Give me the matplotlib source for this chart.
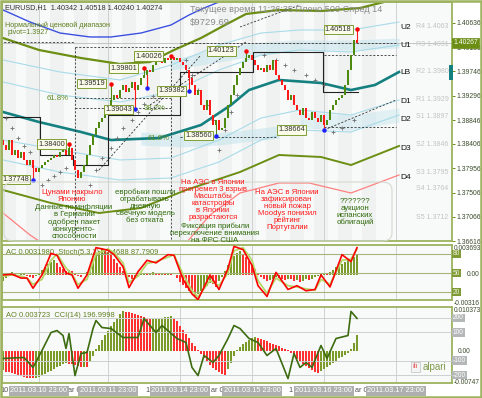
import matplotlib
matplotlib.use("Agg")
import matplotlib.pyplot as plt
from matplotlib.patches import Rectangle, FancyBboxPatch
import numpy as np

plt.rcParams['font.family'] = ['Liberation Sans', 'DejaVu Sans']

# ---------------- data ----------------
header = "EURUSD,H1  1.40342 1.40518 1.40240 1.40274"
info_line = "Текущее время 11:26:35 Плечо 500 Спред 14"
balance = "$9729.69"
range_title = "Нормальный ценовой диапазон"
pivot_text = "pivot=1.3927"

first_open = 1.38478
closes = [
    1.38386, 1.38294, 1.38478, 1.38202, 1.38294, 1.38146, 1.38257, 1.38110, 1.38017, 1.38110, 1.37962,
    1.37888, 1.37962, 1.38017, 1.38073, 1.38110, 1.38146, 1.38202, 1.38165, 1.38257, 1.38294, 1.38202,
    1.38331, 1.38110, 1.37925, 1.37778, 1.37888,
    1.38017, 1.38202, 1.38386, 1.38571, 1.38700, 1.38810, 1.38884, 1.38995, 1.39069, 1.39216,
    1.39308, 1.39253, 1.39400, 1.39493, 1.39364, 1.39437, 1.39548, 1.39400, 1.39493, 1.39622,
    1.39677, 1.39769, 1.39732, 1.39861, 1.39917, 1.39954, 1.39898, 1.39990, 1.39954, 1.40009,
    1.39954, 1.39990, 1.39917, 1.39861, 1.39769, 1.39622,
    1.39493, 1.39308, 1.39400, 1.39124, 1.39032, 1.39216, 1.38939, 1.38755, 1.38847, 1.38663,
    1.38700, 1.38884, 1.39124, 1.39308, 1.39493, 1.39677, 1.39806, 1.39917, 1.39990, 1.40046,
    1.39954, 1.39861, 1.39769, 1.39806, 1.39732, 1.39861, 1.39769, 1.39954, 1.39677, 1.39585,
    1.39493, 1.39400, 1.39216, 1.39308, 1.39124, 1.39032, 1.38939, 1.39069, 1.38884, 1.38847,
    1.38995, 1.38884, 1.38810, 1.38939, 1.38755, 1.38847,
    1.39032, 1.39124, 1.39216, 1.39253, 1.39308,
    1.39493, 1.39769, 1.40046, 1.40322, 1.40267,
]

# swing highs / lows with their price labels
swing_idx = [10, 22, 36, 44, 47, 62, 56, 71, 81, 107, 118]
swing_price = [1.37748, 1.38400, 1.39519, 1.39043, 1.39801, 1.39382, 1.40026, 1.38560, 1.40123, 1.38664, 1.40518]
swing_high = [False, True, True, False, True, False, True, False, True, False, True]
label_idx = [-0.3, 11.7, 25.0, 34.0, 35.7, 51.7, 44.0, 60.7, 68.3, 91.7, 107.3]
extra_low_idx = [48]
extra_low_price = [1.3943]

# channel / band curves (bar index, price)
blue_idx = [0, 9, 19, 29, 36, 46, 56, 62, 67, 72, 76]
blue_val = [1.40876, 1.40654, 1.40451, 1.40378, 1.40378, 1.40451, 1.40599, 1.40783, 1.40912, 1.41023, 1.41152]
olive_up_idx = [0, 12, 26, 39, 49, 57, 66, 74, 81, 92, 106, 119, 127]
olive_up_val = [1.40359, 1.40138, 1.39990, 1.39880, 1.39917, 1.40138, 1.40359, 1.40599, 1.40802, 1.40876, 1.40857, 1.40912, 1.41023]
olive_dn_idx = [0, 16, 32, 46, 61, 79, 92, 106, 116, 132]
olive_dn_val = [1.37556, 1.37317, 1.37132, 1.37225, 1.37556, 1.37888, 1.38202, 1.38165, 1.38017, 1.38368]
pink_idx = [0, 9, 19, 39, 59, 69, 79, 92, 102, 116, 132]
pink_val = [1.37132, 1.36727, 1.36358, 1.35989, 1.36450, 1.37095, 1.37501, 1.37686, 1.37686, 1.37501, 1.37833]
teal_idx = [0, 12, 26, 36, 52, 66, 76, 82, 92, 106, 116, 124, 132]
teal_val = [1.38995, 1.38810, 1.38626, 1.38478, 1.38515, 1.38755, 1.39124, 1.39400, 1.39585, 1.39530, 1.39400, 1.39493, 1.39732]
lb_idx = [0, 19, 39, 56, 72, 86, 99, 116, 132]
lb_u2 = [1.39954, 1.39732, 1.39585, 1.39861, 1.40230, 1.40451, 1.40507, 1.40507, 1.40654]
lb_u1 = [1.39548, 1.39308, 1.39179, 1.39364, 1.39769, 1.40046, 1.40138, 1.40101, 1.40230]
lb_d1 = [1.38478, 1.38294, 1.38110, 1.38146, 1.38478, 1.38884, 1.39032, 1.38939, 1.39216]
lb_d2 = [1.38110, 1.37888, 1.37741, 1.37778, 1.38073, 1.38478, 1.38663, 1.38626, 1.38939]

band1_idx = [56, 72, 86, 99, 116, 132]
band1_hi = [1.39954, 1.40175, 1.40286, 1.40322, 1.40322, 1.40359]
band1_lo = [1.39769, 1.39917, 1.40046, 1.40138, 1.40138, 1.40175]
band2_idx = [46, 60, 72, 86, 92]
band2_hi = [1.38626, 1.38571, 1.38608, 1.38700, 1.38737]
band2_lo = [1.38386, 1.38349, 1.38386, 1.38478, 1.38515]
band3_idx = [99, 116, 132]
band3_hi = [1.38995, 1.38939, 1.39069]
band3_lo = [1.38700, 1.38663, 1.38810]

# dashed fib / pivot lines: (start idx, end idx, start price, end price)
dashed_lines = [
    (-1, 24, 1.40286, 1.40286), (24, 59, 1.40193, 1.40193),
    (24, 24, 1.40193, 1.3600), (56, 56, 1.40009, 1.3600),
    (24, 56, 1.39253, 1.39253), (24, 56, 1.39069, 1.39069),
    (59, 131, 1.40267, 1.40267), (59, 91, 1.38534, 1.38534),
    (107, 131, 1.40046, 1.40046), (107, 131, 1.38718, 1.38718),
    (32, 66, 1.37925, 1.40046), (49, 81, 1.39124, 1.40286),
    (79, 99, 1.40562, 1.40968), (107, 131, 1.38663, 1.39216),
]
# previous-day range steps
step_idx = [-1, 12.3, 12.3, 23.3, 23.3, 35, 35, 59, 59, 83.3, 83.3, 106.7, 106.7, 118.3]
step_val = [1.38903, 1.38903, 1.38202, 1.38202, 1.38017, 1.38017, 1.38939, 1.38939,
            1.39732, 1.39732, 1.40101, 1.40101, 1.39364, 1.39364]

# parabolic SAR dots
sar_idx = [1, 3, 5, 7, 9, 13, 15, 17, 19, 21,
           29, 31, 33, 36, 38, 40, 43, 45, 47, 50, 52,
           61, 63, 65, 68, 70, 72, 74, 76, 78,
           87, 91, 94, 97, 101, 104, 107, 110, 113, 117]
sar_val = [1.3889, 1.3870, 1.3852, 1.3837, 1.3826, 1.3765, 1.3774, 1.3782, 1.3789, 1.3797,
           1.3765, 1.3793, 1.3815, 1.3833, 1.3852, 1.3870, 1.3885, 1.3900, 1.3915, 1.3929, 1.3944,
           1.3996, 1.3968, 1.3940, 1.3913, 1.3885, 1.3830, 1.3867, 1.3900, 1.3931,
           1.4005, 1.3996, 1.3986, 1.3977, 1.3968, 1.3959, 1.3950, 1.3863, 1.3870, 1.3885]

pct_labels = ["61.8%", "38.2%", "61.8%"]
pct_idx = [14.5, 47.0, 48.3]
pct_val = [1.3924, 1.3905, 1.3850]

right_names = ["U2", "U1", "LB", "D1", "D2", "D3", "D4"]
right_name_val = [1.4056, 1.4023, 1.3972, 1.3918, 1.3885, 1.3833, 1.3778]
pivot_names = ["R4 1.4063", "R3 1.4031", "R2 1.3980", "R1 1.3929", "S1 1.3897",
               "S2 1.3846", "S3 1.3795", "S4 1.3764", "S5 1.3712"]
pivot_vals = [1.4063, 1.4031, 1.3980, 1.3929, 1.3897, 1.3846, 1.3795, 1.3764, 1.3712]

price_ticks = [1.40636, 1.40186, 1.39746, 1.39296, 1.38846, 1.38406, 1.37956, 1.37506, 1.37066, 1.36616]

# Accelerator oscillator (per bar)
ac = [-0.0008, -0.0004,
      0.0002, 0.0003, 0.0002, -0.0001, 0.0001, 0.0002, -0.0002, -0.0003,
      -0.0004, -0.0002, 0.0002,
      0.0006, 0.0010, 0.0013, 0.0016, 0.0018,
      0.0014, 0.0010, 0.0007, 0.0005,
      0.0006, 0.0004, 0.0002,
      -0.0002, -0.0003, -0.0001, 0.0003,
      0.0010, 0.0018, 0.0024, 0.0030, 0.0033, 0.0031,
      0.0028, 0.0024, 0.0019, 0.0014, 0.0009, 0.0005,
      0.0001, -0.0003, -0.0005, -0.0004, -0.0002,
      0.0001, 0.0002, 0.0001, 0.0002, 0.0003, 0.0002, 0.0001, 0.0002, 0.0001, 0.0002, 0.0001, -0.0001,
      -0.0004, -0.0009, -0.0013, -0.0017, -0.0020, -0.0023, -0.0026, -0.0024, -0.0021,
      -0.0018, -0.0014, -0.0010, -0.0012, -0.0015, -0.0008, -0.0003,
      0.0005, 0.0012, 0.0018, 0.0023, 0.0027, 0.0029, 0.0026,
      0.0022, 0.0017, 0.0012, 0.0007, 0.0002,
      -0.0003, -0.0006, -0.0008, -0.0007, -0.0005, -0.0003,
      -0.0004, -0.0006, -0.0007, -0.0005, -0.0006, -0.0008, -0.0007, -0.0009, -0.0008, -0.0006,
      -0.0007, -0.0005, -0.0003, -0.0002,
      0.0001, 0.0002, 0.0001, 0.0003,
      0.0006, 0.0009, 0.0011, 0.0013, 0.0016, 0.0018, 0.0020, 0.0022, 0.0026]

stoch_idx = [0, 3, 6, 8, 10, 13, 16, 18, 21, 23, 25, 28, 31, 35, 37, 40, 42, 45, 48, 51,
             55, 57, 60, 63, 65, 69, 72, 75, 77, 80, 83, 85, 88, 91, 95, 98, 101, 104, 106, 109,
             113, 116, 118]
stoch_main = [47, 48, 42, 42, 26, 47, 81, 78, 50, 47, 26, 47, 90, 86, 79, 60, 27, 52, 70, 66,
              79, 78, 40, 17, 8, 47, 24, 57, 92, 87, 62, 30, 13, 51, 24, 30, 22, 24, 47, 28,
              79, 68, 90]
stoch_signal = [45, 47, 45, 42, 32, 40, 70, 80, 58, 48, 32, 40, 80, 88, 82, 66, 35, 45, 65, 68,
                75, 79, 48, 22, 12, 38, 30, 50, 85, 90, 70, 38, 18, 42, 30, 28, 25, 23, 40, 32,
                70, 72, 87.8]
ac_label = "AC 0.0031980  Stoch(5,3,3) 95.4688 87.7909"

# Awesome oscillator (per bar)
ao = [-0.0045, -0.0048, -0.0050, -0.0052, -0.0054, -0.0056, -0.0058, -0.0060, -0.0062, -0.0063, -0.0064,
      -0.0062, -0.0060, -0.0057, -0.0054, -0.0050, -0.0046, -0.0042, -0.0038, -0.0034, -0.0030, -0.0027,
      -0.0029, -0.0031, -0.0033, -0.0035, -0.0037, -0.0036, -0.0038,
      -0.0025, -0.0012,
      0.0004, 0.0015, 0.0026, 0.0037, 0.0048, 0.0058, 0.0068, 0.0078, 0.0087, 0.0095,
      0.0093, 0.0091, 0.0089, 0.0087, 0.0085, 0.0083, 0.0080, 0.0078, 0.0075,
      0.0076, 0.0077, 0.0078, 0.0079, 0.0080, 0.0081, 0.0082,
      0.0078, 0.0070, 0.0060, 0.0050, 0.0040, 0.0030, 0.0020, 0.0011, 0.0003,
      -0.0006, -0.0015, -0.0024, -0.0032, -0.0039, -0.0045, -0.0050, -0.0054, -0.0056,
      -0.0042, -0.0028, -0.0012,
      0.0003, 0.0010, 0.0016, 0.0022, 0.0027, 0.0031, 0.0034,
      0.0032, 0.0029, 0.0026, 0.0023, 0.0020, 0.0017, 0.0014, 0.0011, 0.0008, 0.0005, 0.0002,
      -0.0005, -0.0012, -0.0018, -0.0024, -0.0030, -0.0035, -0.0040, -0.0044, -0.0048, -0.0051,
      -0.0047, -0.0042, -0.0037, -0.0032, -0.0027, -0.0022, -0.0017, -0.0013, -0.0009, -0.0005,
      0.0005, 0.0020, 0.0037]
cci_idx = [0, 7, 10, 13, 16, 18, 20, 21, 22, 24, 26, 28, 30, 31, 33, 36, 40, 45, 47, 51,
           53, 58, 61, 63, 65, 67, 70, 72, 75, 77, 79, 82, 85, 88, 91, 95, 97, 99, 101, 103,
           106, 108, 111, 115, 116, 118]
cci = [-84, -77, -147, -28, 98, 112, 77, -14, 91, -204, -49, -42, 126, 182, 133, 126, 63, 63, 196, 98,
       147, 56, 28, -147, -204, -63, -112, -63, 56, 147, 126, 56, 28, -63, -14, -225, -49, -147, -112, -147,
       7, -84, 56, 77, 246, 197]
ao_label = "AO 0.003723  CCI(14) 196.9998"

grid_idx = [12, 35, 59, 83, 107, 131]
time_labels = ["2011.03.10 23:00", "2011.03.11 23:00", "2011.03.14 23:00",
               "2011.03.15 23:00", "2011.03.16 23:00", "2011.03.17 23:00"]
time_fragments = ["10", "ar 0", "1", "ar 0", "1", "ar 0"]
fragment_idx = [-0.9, 21.8, 47.6, 69.3, 95.0, 117.2]

notes = [
    ("Цунами накрыло\nЯпонию", 72, 196, 'red'),
    ("Данные по инфляции\nв Германии\nодобрен пакет\nконкуренто-\nспособности", 74, 222, 'green'),
    ("евробыки пошли\nотрабатывать\nдневную\nсвечную модель\nбез отката", 145, 206, 'green'),
    ("На АЭС в Японии\nпрогремел 3 взрыв\nМасштабы\nкатастрофы\nв Японии\nразрастаются", 213, 200, 'red'),
    ("Фиксация прибыли\nпереключение внимания\nна ФРС США", 215, 233, 'green'),
    ("На АЭС в Японии\nзафиксирован\nновый пожар\nMoodys понизил\nрейтинг\nПортугалии", 287, 210, 'red'),
    ("???????\nаукцион\nиспанских\nоблигаций", 355, 212, 'green'),
]

# ---------------- styling ----------------
W, H = 482, 398
BULL = '#4f8a10'
BEAR = '#ff1a1a'
OLIVE = '#9db35f'
TXT_OLIVE = '#5f7f1f'
BG = '#f8fafa'
XL = (-0.333, 149.667)


def fr(x0, y0, x1, y1):
    return [x0 / W, 1 - y1 / H, (x1 - x0) / W, (y1 - y0) / H]


def fp(x, y):
    return x / W, 1 - y / H


fig = plt.figure(figsize=(4.82, 3.98), dpi=100)
fig.patch.set_facecolor('white')

ax = fig.add_axes(fr(2, 2, 452, 241))
ax_ac = fig.add_axes(fr(2, 245, 452, 300))
ax_ao = fig.add_axes(fr(2, 307, 452, 383))

for a in (ax, ax_ac, ax_ao):
    a.set_facecolor(BG)
    a.set_xlim(*XL)
    for s in a.spines.values():
        s.set_color(OLIVE)
        s.set_linewidth(1.3)
    a.tick_params(axis='x', length=0, labelbottom=False)
    for g in grid_idx:
        a.axvline(g, color='#cfd2d2', lw=0.7, zorder=0.5)

# ---- main panel ----
ax.set_ylim(price_ticks[-1], 1.41023)
for s0 in np.arange(-0.3, 125, 8):
    ax.axvspan(s0, s0 + 4.5, color='#f0f2f2', lw=0, zorder=0.2)

ax.fill_between(band1_idx, band1_lo, band1_hi, color='#c4e4ec', alpha=0.55, lw=0, zorder=0.6)
ax.fill_between(band2_idx, band2_lo, band2_hi, color='#c4e4ec', alpha=0.55, lw=0, zorder=0.6)
ax.fill_between(band3_idx, band3_lo, band3_hi, color='#c4e4ec', alpha=0.45, lw=0, zorder=0.6)

for vals in (lb_u2, lb_u1, lb_d1, lb_d2):
    ax.plot(lb_idx, vals, color='#a9dbe8', lw=0.8, zorder=1)
ax.plot(blue_idx, blue_val, color='#3c50e0', lw=1.0, zorder=1.2)
ax.plot(olive_up_idx, olive_up_val, color='#6b8e13', lw=1.6, zorder=1.2)
ax.plot(olive_dn_idx, olive_dn_val, color='#6b8e13', lw=1.4, zorder=1.2)
ax.plot(pink_idx, pink_val, color='#ff8080', lw=0.9, zorder=1.2)
ax.plot(teal_idx, teal_val, color='#158080', lw=1.9, zorder=1.3)

for (i0, i1, p0, p1) in dashed_lines:
    ax.plot([i0, i1], [p0, p1], color='#333333', lw=0.6, ls=(0, (2.5, 2)), zorder=1.4)
ax.plot(step_idx, step_val, color='#222222', lw=0.8, zorder=1.4)
ax.axhline(closes[-1], color='#b0b0b0', lw=0.5, zorder=1.1)

ax.scatter(sar_idx, sar_val, marker='+', s=6, color='#707070', lw=0.6, zorder=1.5)

opens = [first_open] + closes[:-1]
idx = np.arange(len(closes))
bot = np.minimum(opens, closes)
hgt = np.maximum(np.abs(np.array(closes) - np.array(opens)), 0.00006)
cols = [BULL if c >= o else BEAR for o, c in zip(opens, closes)]
ax.bar(idx, hgt, bottom=bot, width=0.72, color=cols, lw=0, zorder=2)

for i, p, hi in zip(swing_idx, swing_price, swing_high):
    o, c = opens[i], closes[i]
    col = BULL if c >= o else BEAR
    ax.plot([i, i], [max(o, c) if hi else min(o, c), p], color=col, lw=0.8, zorder=2)
    ax.plot(i, p, 'o', ms=2.2, color='#ff0000' if hi else '#2020ff', zorder=2.2)
for i, p in zip(extra_low_idx, extra_low_price):
    ax.plot([i, i], [min(opens[i], closes[i]), p], color=BEAR, lw=0.8, zorder=2)
    ax.plot(i, p, 'o', ms=2.2, color='#2020ff', zorder=2.2)

for lx, p in zip(label_idx, swing_price):
    ax.text(lx, p, f"{p:.5f}", fontsize=5.3, color='#303030', ha='left', va='center', zorder=4,
            bbox=dict(boxstyle='square,pad=0.18', fc='#fbfbea', ec='#7f9f33', lw=0.7))
for t, i, p in zip(pct_labels, pct_idx, pct_val):
    ax.text(i, p, t, fontsize=5.6, color='#5a8a22', ha='left', va='center', zorder=4)

for t, p in zip(right_names, right_name_val):
    ax.text(132.3, p, t, fontsize=6, color='#111111', ha='left', va='center', zorder=4)
for t, p in zip(pivot_names, pivot_vals):
    ax.text(137.8, p, t, fontsize=5.0, color='#c2c2c2', ha='left', va='top', zorder=4)

ax.yaxis.tick_right()
ax.set_yticks(price_ticks)
ax.set_yticklabels([f"{v:.5f}" for v in price_ticks])
ax.tick_params(axis='y', length=2.0, width=0.7, color='#6b8e13', labelsize=4.9,
               labelcolor='#3a4a2a', pad=1.0)
ax.text(1.003, closes[-1], f"{closes[-1]:.5f}", transform=ax.get_yaxis_transform(),
        fontsize=4.9, color='white', ha='left', va='center', zorder=6, clip_on=False,
        bbox=dict(boxstyle='square,pad=0.2', fc='#6b8e13', ec='#6b8e13', lw=0.5))

# rounded note box
fig.patches.append(FancyBboxPatch(fp(4, 241), (392 - 4) / W, (241 - 182) / H,
                                  boxstyle='round,pad=0,rounding_size=0.02',
                                  transform=fig.transFigure, fc='none', ec='#d3d9d0', lw=0.8))
fig.patches.append(Rectangle(fp(448.5, 80), 4 / W, 15 / H, transform=fig.transFigure,
                             fc='#158080', ec='none', zorder=5))

# texts top
fig.text(*fp(5, 8), header, fontsize=5.2, color='#303030', va='center', ha='left')
fig.text(*fp(190, 9), info_line, fontsize=6.6, color='#8a8a8a', va='center', ha='left')
fig.text(*fp(190, 22), balance, fontsize=6.8, color='#8a8a8a', va='center', ha='left')
fig.text(*fp(5, 25), range_title, fontsize=5.1, color=TXT_OLIVE, va='center', ha='left')
fig.text(*fp(8, 33), pivot_text, fontsize=5.1, color=TXT_OLIVE, va='center', ha='left')

for s, x, y, c in notes:
    fig.text(*fp(x, y), s, fontsize=5.6, color='#ff1a1a' if c == 'red' else '#2f6a0a',
             ha='center', va='center', linespacing=0.98, zorder=5)

# ---- AC panel ----
ax_ac.set_ylim(-0.00316, 0.003693)
ac_cols = ['#7a9a2a'] + ['#7a9a2a' if ac[i] >= ac[i - 1] else '#ff3030' for i in range(1, len(ac))]
ax_ac.bar(idx, ac, width=0.35, color=ac_cols, lw=0, zorder=1)
ax_ac.set_yticks([])
ax_st = ax_ac.twinx()
ax_st.set_ylim(7.4, 94.2)
ax_st.set_xlim(*XL)
for lvl in (80, 50, 20):
    ax_st.axhline(lvl, color='#a6b47a', lw=0.8, zorder=0.8)
ax_st.plot(stoch_idx, stoch_signal, color='#b5d86a', lw=1.3, zorder=2)
ax_st.plot(stoch_idx, stoch_main, color='#ff0000', lw=1.2, zorder=3)
ax_st.set_yticks([])
for s in ax_st.spines.values():
    s.set_visible(False)
ax_ac.text(0.008, 0.93, ac_label, transform=ax_ac.transAxes, fontsize=5.4, color=TXT_OLIVE,
           ha='left', va='top', zorder=5)
tr = ax_ac.get_yaxis_transform()
ax_ac.text(1.003, 0.003693, "0.003693", transform=tr, fontsize=4.8, color='#3a4a2a', va='top', clip_on=False)
ax_ac.text(1.003, -0.00316, "-0.00316", transform=tr, fontsize=4.8, color='#3a4a2a', va='top', clip_on=False)
ax_ac.text(1.032, 0.0, "0.00", transform=tr, fontsize=4.8, color='#3a4a2a', va='center', clip_on=False)
trs = ax_st.get_yaxis_transform()
for lvl in (80, 50, 20):
    ax_st.text(1.002, lvl, str(lvl), transform=trs, fontsize=4.8, color='#eef3dc', va='center',
               clip_on=False, zorder=6,
               bbox=dict(boxstyle='square,pad=0.12', fc='#7f9a35', ec='none'))

# ---- AO panel ----
ax_ao.set_ylim(-0.00747, 0.010373)
ao_cols = ['#7a9a2a'] + ['#7a9a2a' if ao[i] >= ao[i - 1] else '#ff3030' for i in range(1, len(ao))]
ax_ao.bar(idx, ao, width=0.35, color=ao_cols, lw=0, zorder=1)
ax_ao.set_yticks([])
ax_cci = ax_ao.twinx()
ax_cci.set_ylim(-256, 277)
ax_cci.set_xlim(*XL)
for lvl in (200, 100, -100, -200):
    ax_cci.axhline(lvl, color='#cdd0d0', lw=0.7, zorder=0.8)
ax_cci.plot(cci_idx, cci, color='#3d6b10', lw=1.2, zorder=3)
ax_cci.set_yticks([])
for s in ax_cci.spines.values():
    s.set_visible(False)
ax_ao.text(0.008, 0.93, ao_label, transform=ax_ao.transAxes, fontsize=5.4, color=TXT_OLIVE,
           ha='left', va='top', zorder=5)
tr = ax_ao.get_yaxis_transform()
ax_ao.text(1.003, 0.010373, "0.010373", transform=tr, fontsize=4.8, color='#3a4a2a', va='top', clip_on=False)
ax_ao.text(1.003, -0.00747, "-0.00747", transform=tr, fontsize=4.8, color='#3a4a2a', va='center', clip_on=False)
ax_ao.text(1.012, 0.0, "0.00", transform=tr, fontsize=4.8, color='#3a4a2a', va='center', clip_on=False)
trc = ax_cci.get_yaxis_transform()
for lvl in (200, 100, -100, -200):
    ax_cci.text(1.002, lvl, str(lvl), transform=trc, fontsize=4.8, color='white', va='center',
                clip_on=False, zorder=6,
                bbox=dict(boxstyle='square,pad=0.12', fc='#b5b8b8', ec='none'))

# alpari logo
fig.patches.append(Rectangle(fp(411, 372), 9 / W, 10 / H, transform=fig.transFigure,
                             fc='#f4f4f4', ec='#c8c8c8', lw=0.6, zorder=5))
fig.text(*fp(415.5, 367), "ılı", fontsize=5, color='#e04040', ha='center', va='center', zorder=6)
fig.text(*fp(423, 367), "alpari", fontsize=7, color='#7f9a4a', ha='left', va='center', zorder=6)

# time axis
trx = ax_ao.get_xaxis_transform()
for t, i in zip(time_fragments, fragment_idx):
    ax_ao.text(i, -0.105, t, transform=trx, fontsize=5.3, color='#555555', ha='left',
               va='center', clip_on=False)
for t, i in zip(time_labels, grid_idx):
    ax_ao.text(i, -0.105, t, transform=trx, fontsize=5.3, color='white', ha='center',
               va='center', clip_on=False, zorder=6,
               bbox=dict(boxstyle='square,pad=0.2', fc='#aeb0b0', ec='none'))

# outer frame
fig.patches.append(Rectangle((0.002, 0.002), 0.996, 0.996, transform=fig.transFigure,
                             fc='none', ec=OLIVE, lw=1.8, zorder=10))

fig.savefig('out.png', dpi=100, facecolor='white')
